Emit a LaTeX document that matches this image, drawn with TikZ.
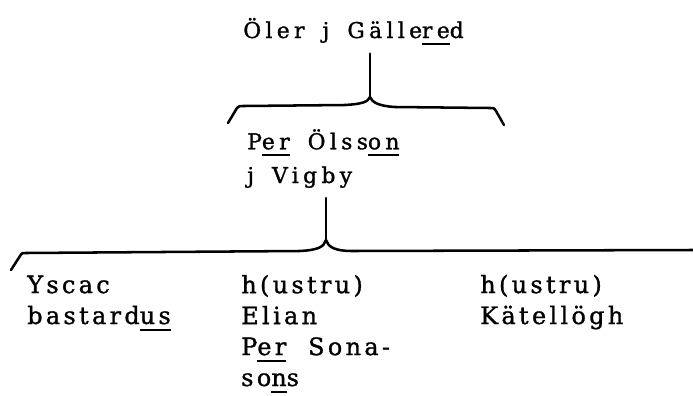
\documentclass[tikz,border=0pt]{standalone}
\usepackage{fontspec}
\setmainfont{DejaVu Serif}
\newfontfamily\farfont{DejaVu Serif}[LetterSpace=20, WordSpace=1.6, FakeBold=1.2]
\newfontfamily\barnfont{DejaVu Serif}[LetterSpace=14, WordSpace=2, FakeBold=1.2]
\newcommand\understr[1]{\setbox0\hbox{#1}\rlap{\rule[-4.9pt]{\wd0}{1.4pt}}\box0\relax}
\tikzset{
  far/.style={anchor=base west, inner sep=0pt, align=left, font=\fontsize{15.5}{24}\farfont},
  barn/.style={anchor=base west, inner sep=0pt, align=left, font=\fontsize{17}{22}\barnfont},
  klammer/.style={line width=1.8pt, line cap=round, line join=round}
}

\begin{document}
\begin{tikzpicture}[x=0.025cm, y=-0.025cm]
  \useasboundingbox (0,0) rectangle (693,396);
  % forste led
  \node (oler) [far] at (243,38) {Öler j Gälle\understr{re}d};
  \coordinate (spetsA) at (370,97);
  \coordinate (vanA) at (228,123);
  \coordinate (hogA) at (504,125);
  \draw [klammer] ([yshift=-6pt]oler.south -| spetsA) -- (spetsA);
  \draw [klammer] (vanA) -- (237,108) .. controls (239,106) .. (244,106) -- (345,105)
    .. controls (362,104) and (368,102) .. (spetsA) .. controls (372,102) and (378,106) .. (395,107)
    -- (490,108) .. controls (494,108) .. (496,111) -- (hogA);
  % andra led (base = sista radens baslinje)
  \node (per) [far] at (247,183) {P\understr{er} Ölss\understr{on}\\j Vigby};
  \coordinate (spetsB) at (326,240);
  \coordinate (vanB) at (11,270);
  \coordinate (hogB) at (693,250);
  \draw [klammer] ([yshift=-7pt]per.south -| spetsB) -- (spetsB);
  \draw [klammer] (vanB) -- (20,256) .. controls (22,253) .. (26,253) -- (300,251)
    .. controls (318,250) and (324,247) .. (spetsB) .. controls (328,247) and (335,251) .. (352,251)
    -- (hogB);
  % barnen
  \node (yscac) [barn] at (27,324) {Yscac\\bastard\understr{us}};
  \node (elian) [barn] at (241,386) {h(ustru)\\Elian\\P\understr{er} Sona-\\so\understr{n}s};
  \node (katel) [barn] at (480,324) {h(ustru)\\Kätellögh};
\end{tikzpicture}
\end{document}
